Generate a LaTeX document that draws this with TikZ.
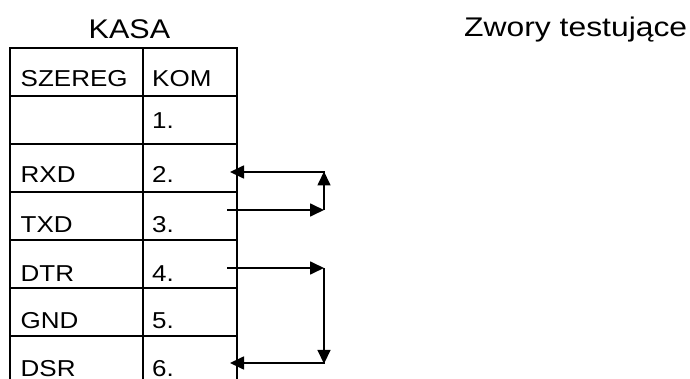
\documentclass[tikz,border=0pt]{standalone}
\usepackage{fontspec}
\usepackage{graphicx}
\setmainfont{Liberation Sans}
\usetikzlibrary{arrows.meta}
\newcommand{\wx}[1]{\scalebox{1.13}[1]{#1}}
\tikzset{
  tbl/.style={line width=2.2pt, line cap=rect},
  cell/.style={anchor=base west, inner sep=0pt, font=\fontsize{23}{23}\selectfont},
  ttl/.style={anchor=base west, inner sep=0pt, font=\fontsize{27}{27}\selectfont},
  conn/.style={line width=1.7pt, -{Triangle[length=14pt,width=13pt]}},
  wire/.style={line width=1.7pt},
}
\begin{document}
\begin{tikzpicture}[x=1pt,y=-1pt]
\useasboundingbox (0,0) rectangle (690,379);
% table
\draw[tbl] (10,379) -- (10,48) -- (237,48) -- (237,379);
\draw[tbl] (143,48) -- (143,379);
\foreach \y in {96,144,192,240,288,336} \draw[tbl] (10,\y) -- (237,\y);
% titles
\node[ttl] (kasa) at (88.5,38.3) {\wx{KASA}};
\node[ttl] (zwory) at (464,36.7) {\resizebox{223pt}{\height}{Zwory testujące}};
% cells
\node[cell] (h1) at (20.5,86.7) {\wx{SZEREG}};
\node[cell] (h2) at (152,86.7) {\wx{KOM}};
\node[cell] (k1) at (152,128.5) {\wx{1.}};
\node[cell] (s2) at (20.5,183) {\wx{RXD}};
\node[cell] (k2) at (152,183) {\wx{2.}};
\node[cell] (s3) at (20.5,233) {\wx{TXD}};
\node[cell] (k3) at (152,233) {\wx{3.}};
\node[cell] (s4) at (20.5,281) {\wx{DTR}};
\node[cell] (k4) at (152,281) {\wx{4.}};
\node[cell] (s5) at (20.5,328) {\wx{GND}};
\node[cell] (k5) at (152,328) {\wx{5.}};
\node[cell] (s6) at (20.5,376.5) {\wx{DSR}};
\node[cell] (k6) at (152,376.5) {\wx{6.}};
% jumper coordinates
\coordinate (p2) at (230,172);
\coordinate (q2) at (324,172);
\coordinate (p3) at (227,210);
\coordinate (q3) at (324,210);
\coordinate (p4) at (227,268);
\coordinate (q4) at (324,268);
\coordinate (p6) at (230,363);
\coordinate (q6) at (324,363);
% jumper 3 -> 2
\draw[conn] (p3) -- (q3);
\draw[conn] (q3) -- ([yshift=0.5pt]q2);
\draw[conn] ([xshift=0.8pt]q2) -- (p2);
% jumper 4 -> 6
\draw[conn] (p4) -- (q4);
\draw[conn] (q4) -- ([yshift=-0.8pt]q6);
\draw[conn] ([xshift=0.8pt]q6) -- (p6);
\end{tikzpicture}
\end{document}
